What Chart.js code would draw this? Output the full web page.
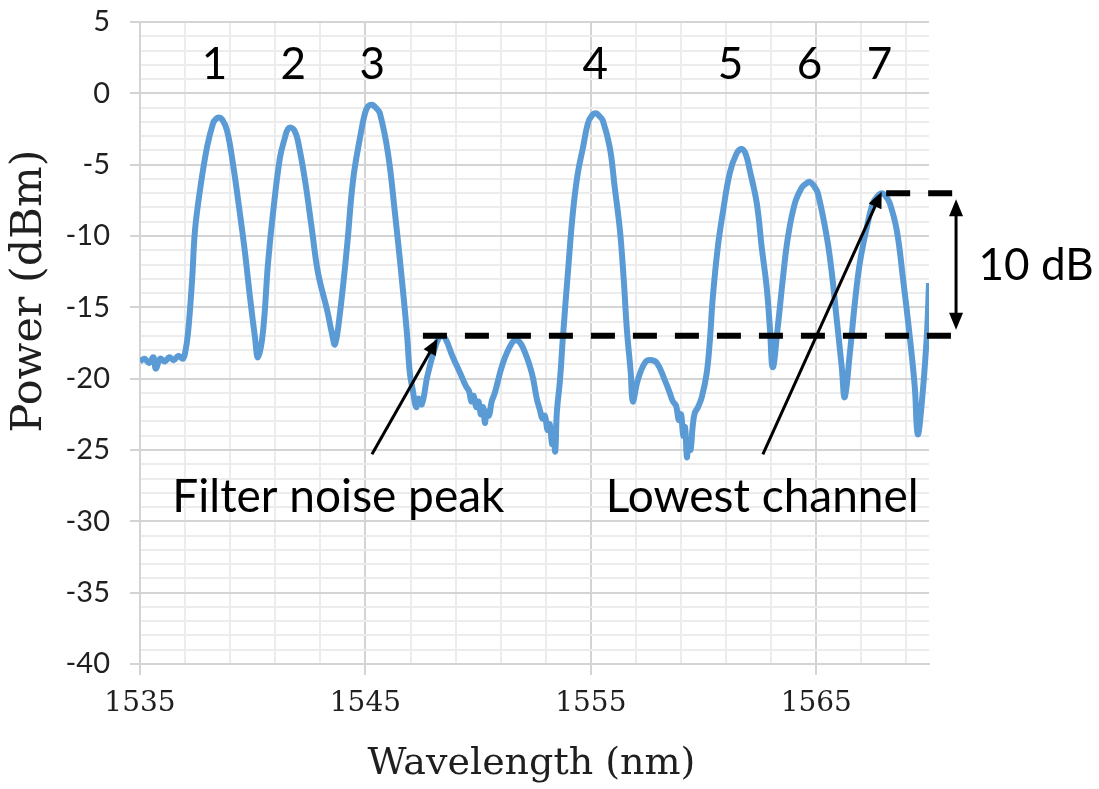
<!DOCTYPE html>
<html>
<head>
<meta charset="utf-8">
<title>Filter output spectrum</title>
<script src="https://cdn.jsdelivr.net/npm/chart.js@4.4.0/dist/chart.umd.min.js"></script>
<style>
  html, body { margin: 0; padding: 0; background: #fff; }
  #spectrum { display: block; }
</style>
</head>
<body>
<canvas id="spectrum" width="1099" height="789"></canvas>
<script>
// Measured spectrum: wavelength (nm) and power (dBm)
const wavelengths = [
    1535.0, 1535.2, 1535.4, 1535.6, 1535.7, 1535.9, 1536.1, 1536.3, 1536.5, 1536.7, 1536.9, 1537.0,
    1537.13, 1537.31, 1537.44, 1537.66, 1537.97, 1538.24, 1538.37, 1538.5, 1538.65,
    1538.86, 1539.12, 1539.43, 1539.66, 1539.88, 1540.1, 1540.23,
    1540.45, 1540.68, 1540.9, 1541.21, 1541.43, 1541.56, 1541.7, 1541.85,
    1542.0, 1542.32, 1542.63, 1542.9, 1543.3, 1543.51, 1543.65,
    1543.87, 1544.18, 1544.45, 1544.76, 1544.98, 1545.12, 1545.29, 1545.46,
    1545.64, 1546.0, 1546.31, 1546.62, 1546.84, 1546.97,
    1547.1, 1547.25, 1547.35, 1547.5, 1547.75, 1548.05, 1548.25, 1548.39, 1548.55,
    1548.88, 1549.2, 1549.45, 1549.6, 1549.7, 1549.8, 1549.92, 1550.02, 1550.12, 1550.22,
    1550.3, 1550.38, 1550.48, 1550.6, 1550.74,
    1551.1, 1551.5, 1551.72, 1551.98, 1552.38, 1552.6, 1552.74, 1552.85, 1552.96, 1553.08,
    1553.18, 1553.28, 1553.35, 1553.42, 1553.49, 1553.63, 1553.76,
    1553.98, 1554.2, 1554.42, 1554.65, 1554.87, 1555.05, 1555.22, 1555.38,
    1555.53, 1555.84, 1556.06, 1556.29, 1556.46, 1556.6, 1556.77, 1556.86,
    1557.08, 1557.39, 1557.62, 1557.93, 1558.28, 1558.5, 1558.64, 1558.78, 1558.9, 1559.0,
    1559.1, 1559.18, 1559.26, 1559.33, 1559.42, 1559.52, 1559.61, 1559.75, 1559.92,
    1560.14, 1560.28, 1560.41, 1560.63, 1560.85, 1561.16, 1561.47, 1561.7, 1561.88,
    1562.05, 1562.36, 1562.58, 1562.8, 1562.94, 1563.07,
    1563.29, 1563.51, 1563.74, 1564.05, 1564.36, 1564.53, 1564.71, 1564.9,
    1565.07, 1565.47, 1565.69, 1565.91, 1566.13, 1566.26,
    1566.49, 1566.71, 1566.93, 1567.24, 1567.51, 1567.72, 1567.9, 1568.08,
    1568.26, 1568.57, 1568.84, 1569.15, 1569.37, 1569.5, 1569.68, 1569.9, 1570.0
];
const powers = [
    -18.8, -18.6, -18.9, -18.5, -19.3, -18.6, -18.8, -18.5, -18.7, -18.4, -18.6, -18.2,
    -16.8, -13.1, -9.6, -6.8, -3.8, -2.1, -1.8, -1.7, -1.85,
    -2.6, -4.9, -8.4, -11.2, -14.3, -17.1, -18.5,
    -16.8, -11.9, -8.4, -4.5, -3.1, -2.5, -2.4, -2.6,
    -3.3, -6.1, -9.6, -12.6, -15.2, -16.8, -17.6,
    -15.4, -10.8, -6.1, -3.1, -1.4, -0.9, -0.8, -1.0,
    -1.4, -4.2, -8.4, -13.1, -16.8, -19.6,
    -20.8, -22.0, -21.4, -21.8, -19.8, -18.0, -17.15, -17.0, -17.2,
    -18.5, -19.6, -20.5, -20.9, -21.6, -21.2, -22.0, -21.6, -22.5, -22.0,
    -23.1, -22.3, -22.6, -21.6, -21.0,
    -18.9, -17.5, -17.3, -17.8, -19.6, -21.4, -22.2, -22.8, -22.6, -23.6,
    -23.2, -24.6, -24.2, -25.1, -22.4, -20.1, -17.1,
    -12.6, -8.4, -5.6, -3.8, -2.1, -1.55, -1.4, -1.6,
    -1.9, -3.8, -6.6, -9.6, -13.1, -16.6, -19.6, -21.6,
    -20.1, -18.9, -18.7, -18.9, -20.1, -21.0, -21.6, -21.9, -22.9, -22.5,
    -24.0, -23.4, -25.5, -24.6, -25.0, -23.3, -22.4, -22.0, -21.3,
    -19.6, -17.3, -14.3, -10.8, -8.4, -5.6, -4.2, -3.9, -4.3,
    -5.4, -7.7, -10.8, -13.6, -16.4, -19.2,
    -16.4, -13.1, -10.1, -7.7, -6.6, -6.35, -6.2, -6.5,
    -7.0, -10.1, -12.6, -15.9, -19.2, -21.3,
    -18.2, -14.7, -11.9, -9.4, -7.7, -7.2, -7.0, -7.2,
    -7.7, -9.6, -12.9, -17.1, -20.6, -23.9, -21.7, -17.1, -13.3
];

// Channel numbers written above the peaks
const channelNames = ['1', '2', '3', '4', '5', '6', '7'];
const channelLabelWavelengths = [1538.3, 1541.8, 1545.3, 1555.2, 1561.2, 1564.7, 1567.8];
const channelLabelPower = 2;

// Labelled axis ticks
const xTickLabels = [1535, 1545, 1555, 1565];
const yTickLabels = [5, 0, -5, -10, -15, -20, -25, -30, -35, -40];

// Reference levels used for the 10 dB margin
const noisePeakLevel = -17;
const lowestChannelLevel = -7;

const curveColor = '#5B9BD5';
const majorGrid = '#d4d4d4';
const minorGrid = '#ececec';
const sansFont = 'Lato, "Noto Sans", sans-serif';
const serifFont = '"DejaVu Serif", serif';

// Callouts, in data units
const notes = {
    noiseArrow: { from: [1545.29, -25.3], to: [1548.2, -17.2] },
    channelArrow: { from: [1562.63, -25.3], to: [1567.9, -6.9] },
    noiseText: { text: 'Filter noise peak', at: [1543.8, -28.3] },
    channelText: { text: 'Lowest channel', at: [1562.6, -28.3] },
    lowerDash: [1547.55, 1571.05],
    upperDash: [1568.1, 1571.05],
    marginArrowAt: 1571.2,
    marginText: { text: '10 dB', at: [1572.2, -12.1] }
};

function drawArrowHead(ctx, x0, y0, x1, y1, len, half) {
    const a = Math.atan2(y1 - y0, x1 - x0);
    ctx.beginPath();
    ctx.moveTo(x1, y1);
    ctx.lineTo(x1 - len * Math.cos(a) + half * Math.sin(a), y1 - len * Math.sin(a) - half * Math.cos(a));
    ctx.lineTo(x1 - len * Math.cos(a) - half * Math.sin(a), y1 - len * Math.sin(a) + half * Math.cos(a));
    ctx.closePath();
    ctx.fill();
}

function drawArrow(ctx, x0, y0, x1, y1) {
    const a = Math.atan2(y1 - y0, x1 - x0);
    ctx.beginPath();
    ctx.moveTo(x0, y0);
    ctx.lineTo(x1 - 10 * Math.cos(a), y1 - 10 * Math.sin(a));
    ctx.stroke();
    drawArrowHead(ctx, x0, y0, x1, y1, 16, 7);
}

const notesPlugin = {
    id: 'spectrumNotes',
    afterDatasetsDraw(chart) {
        const { ctx, scales: { x, y } } = chart;
        const px = v => x.getPixelForValue(v);
        const py = v => y.getPixelForValue(v);
        ctx.save();
        ctx.fillStyle = '#000';
        ctx.strokeStyle = '#000';

        // dashed reference levels
        ctx.lineWidth = 6;
        ctx.setLineDash([24, 18]);
        ctx.beginPath();
        ctx.moveTo(px(notes.lowerDash[0]), py(noisePeakLevel));
        ctx.lineTo(px(notes.lowerDash[1]), py(noisePeakLevel));
        ctx.moveTo(px(notes.upperDash[0]), py(lowestChannelLevel));
        ctx.lineTo(px(notes.upperDash[1]), py(lowestChannelLevel));
        ctx.stroke();
        ctx.setLineDash([]);

        // pointer arrows
        ctx.lineWidth = 3;
        [notes.noiseArrow, notes.channelArrow].forEach(a => {
            drawArrow(ctx, px(a.from[0]), py(a.from[1]), px(a.to[0]), py(a.to[1]));
        });

        // double arrow spanning the margin
        const mx = px(notes.marginArrowAt);
        const top = py(lowestChannelLevel) + 6;
        const bottom = py(noisePeakLevel) - 6;
        ctx.beginPath();
        ctx.moveTo(mx, top + 12);
        ctx.lineTo(mx, bottom - 12);
        ctx.stroke();
        drawArrowHead(ctx, mx, bottom, mx, top, 17, 7);
        drawArrowHead(ctx, mx, top, mx, bottom, 17, 7);

        // text
        ctx.textBaseline = 'middle';
        ctx.textAlign = 'center';
        ctx.font = '44px ' + sansFont;
        channelNames.forEach((n, i) => {
            ctx.fillText(n, px(channelLabelWavelengths[i]), py(channelLabelPower));
        });
        ctx.font = '46px ' + sansFont;
        [notes.noiseText, notes.channelText].forEach(t => {
            ctx.fillText(t.text, px(t.at[0]), py(t.at[1]));
        });
        ctx.font = '44px ' + sansFont;
        ctx.textAlign = 'left';
        ctx.fillText(notes.marginText.text, px(notes.marginText.at[0]), py(notes.marginText.at[1]));
        ctx.restore();
    },
    afterDraw(chart) {
        const { ctx, chartArea } = chart;
        ctx.save();
        ctx.fillStyle = '#1f1f1f';
        ctx.textAlign = 'center';
        ctx.textBaseline = 'middle';
        ctx.font = '38px ' + serifFont;
        ctx.fillText('Wavelength (nm)', (chartArea.left + chartArea.right) / 2 - 3, 764);
        ctx.font = '43px ' + serifFont;
        ctx.translate(30, 291);
        ctx.rotate(-Math.PI / 2);
        ctx.fillText('Power (dBm)', 0, 0);
        ctx.restore();
    }
};

const ctx = document.getElementById('spectrum').getContext('2d');
new Chart(ctx, {
    type: 'line',
    data: {
        datasets: [{
            data: wavelengths.map((w, i) => ({ x: w, y: powers[i] })),
            borderColor: curveColor,
            borderWidth: 6,
            pointRadius: 0,
            tension: 0.4,
            fill: false
        }]
    },
    options: {
        responsive: false,
        animation: false,
        layout: { padding: { left: 0, top: 22, right: 170, bottom: 0 } },
        plugins: {
            legend: { display: false },
            tooltip: { enabled: false }
        },
        scales: {
            x: {
                type: 'linear',
                min: 1535,
                max: 1570,
                afterFit: scale => { scale.height = 125; },
                ticks: {
                    stepSize: 1,
                    autoSkip: false,
                    maxRotation: 0,
                    padding: 12,
                    color: '#1f1f1f',
                    font: { family: serifFont, size: 28 },
                    callback: v => xTickLabels.includes(v) ? String(v) : ''
                },
                grid: {
                    color: c => xTickLabels.includes(c.tick.value) ? majorGrid
                        : (c.tick.value % 2 !== 0 ? minorGrid : 'rgba(0,0,0,0)'),
                    tickColor: c => xTickLabels.includes(c.tick.value) ? majorGrid : 'rgba(0,0,0,0)',
                    tickLength: 11,
                    lineWidth: 2
                },
                border: { color: majorGrid, width: 2 }
            },
            y: {
                min: -40,
                max: 5,
                afterFit: scale => {
                    scale.width = 140;
                    scale.paddingTop = 0;
                    scale.paddingBottom = 0;
                },
                ticks: {
                    stepSize: 1,
                    autoSkip: false,
                    padding: 20,
                    color: '#1f1f1f',
                    font: { family: sansFont, size: 29 },
                    callback: v => yTickLabels.includes(v) ? String(v) : ''
                },
                grid: {
                    color: c => yTickLabels.includes(c.tick.value) ? majorGrid : minorGrid,
                    tickColor: c => yTickLabels.includes(c.tick.value) ? majorGrid : 'rgba(0,0,0,0)',
                    tickLength: 10,
                    lineWidth: 2
                },
                border: { color: majorGrid, width: 2 }
            }
        }
    },
    plugins: [notesPlugin]
});
</script>
</body>
</html>
